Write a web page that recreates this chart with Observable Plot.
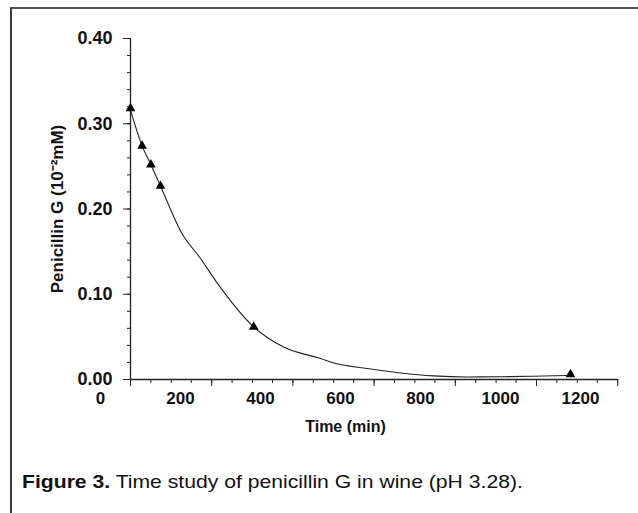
<!DOCTYPE html>
<html>
<head>
<meta charset="utf-8">
<script src="https://cdn.jsdelivr.net/npm/d3@7"></script>
<script src="https://cdn.jsdelivr.net/npm/@observablehq/plot@0.6"></script>
<style>
  html, body { margin: 0; padding: 0; background: #fff; }
  #wrap { position: relative; width: 638px; height: 513px; overflow: hidden; }
  #frame { position: absolute; left: 10px; top: 7px; width: 640px; height: 520px;
           border-left: 2px solid #3a3a3a; border-top: 2px solid #555; }
  #chart { position: absolute; left: 0; top: 0; }
  #caption { position: absolute; left: 22px; top: 472px; font-family: "Liberation Sans", Arial, sans-serif;
             font-size: 19px; line-height: 20px; color: #111; white-space: nowrap; transform-origin: 0 0; }
  #caption b { font-weight: bold; }
</style>
</head>
<body>
<div id="wrap">
  <div id="frame"></div>
  <div id="chart"></div>
  <div id="caption"><b>Figure 3.</b> Time study of penicillin G in wine (pH 3.28).</div>
</div>
<script>
// Measured samples (triangles)
const sampleTime = [75, 104, 126, 150, 383, 1175];
const sampleConc = [0.318, 0.274, 0.252, 0.227, 0.0617, 0.006];

// Fitted curve
const curveTime = [75, 104, 126, 150, 204, 250, 292, 383, 458, 550, 579, 667, 750, 833, 917, 1000, 1083, 1167, 1175];
const curveConc = [0.316, 0.274, 0.252, 0.227, 0.171, 0.142, 0.113, 0.0617, 0.038, 0.0246, 0.020, 0.0129, 0.0077, 0.0042, 0.003, 0.0032, 0.0039, 0.0047, 0.0048];

// Axis ticks
const xLabels = [0, 200, 400, 600, 800, 1000, 1200];
const xMinorTicks = [75,126,177,227,278,329,380,430,481,532,583,633,684,735,786,836,887,938,989,1039,1090,1141,1192,1242,1293];
const xMajorTicks = [75,278,481,684,887,1090,1293];
const yMajorTicks = [0, 0.1, 0.2, 0.3, 0.4];
const yMinorTicks = [0,0.02,0.04,0.06,0.08,0.1,0.12,0.14,0.16,0.18,0.2,0.22,0.24,0.26,0.28,0.3,0.32,0.34,0.36,0.38,0.4];
const xAxisEnd = 1293;

const samples = sampleTime.map((t, i) => ({t, c: sampleConc[i]}));
const curve = curveTime.map((t, i) => ({t, c: curveConc[i]}));

const font = "'Liberation Sans', Arial, Helvetica, sans-serif";

const chart = Plot.plot({
  width: 638,
  height: 450,
  marginLeft: 130,
  marginRight: 18,
  marginTop: 38,
  marginBottom: 71,
  style: {fontFamily: font, color: "#111", background: "transparent", overflow: "visible"},
  x: {domain: [75, 1300]},
  y: {domain: [0, 0.4]},
  marks: [
    Plot.axisY({ticks: yMinorTicks, tickSize: 3, tickFormat: () => "", label: null, stroke: "#222"}),
    Plot.axisY({ticks: yMajorTicks, tickSize: 7, tickPadding: 11, tickFormat: d3.format(".2f"), label: null,
                fontSize: 18, fontWeight: "bold", stroke: "#222"}),
    Plot.axisX({ticks: xMinorTicks, tickSize: 4, tickFormat: () => "", label: null, stroke: "#222"}),
    Plot.axisX({ticks: xMajorTicks, tickSize: 7, tickFormat: () => "", label: null, stroke: "#222"}),
    Plot.ruleX([curveTime[0]], {y1: 0, y2: yMajorTicks[yMajorTicks.length - 1], stroke: "#222", strokeWidth: 1.3}),
    Plot.ruleY([0], {x1: curveTime[0], x2: xAxisEnd, stroke: "#222", strokeWidth: 1.3}),
    Plot.text(xLabels, {x: d => d, y: () => 0, dy: 19, text: d => String(d), fontSize: 17, fontWeight: "bold", fill: "#111"}),
    Plot.text(["Time (min)"], {frameAnchor: "bottom", dx: -30, dy: 52, fontSize: 16, fontWeight: "bold", fill: "#111"}),
    Plot.text(["Penicillin G (10\u207B\u00B2mM)"], {frameAnchor: "left", textAnchor: "middle", dx: -73, rotate: -90, fontSize: 17, fontWeight: "bold", fill: "#111"}),
    Plot.line(curve, {x: "t", y: "c", curve: "monotone-x", stroke: "#222", strokeWidth: 1.1}),
    Plot.dot(samples, {x: "t", y: "c", symbol: "triangle", r: 3.6, fill: "#000", stroke: "none"})
  ]
});
document.getElementById("chart").appendChild(chart);

// Condense the caption horizontally to the width it has in the figure
const cap = document.getElementById("caption");
const targetWidth = 501;
cap.style.transform = `scaleX(${targetWidth / cap.scrollWidth})`;
</script>
</body>
</html>
